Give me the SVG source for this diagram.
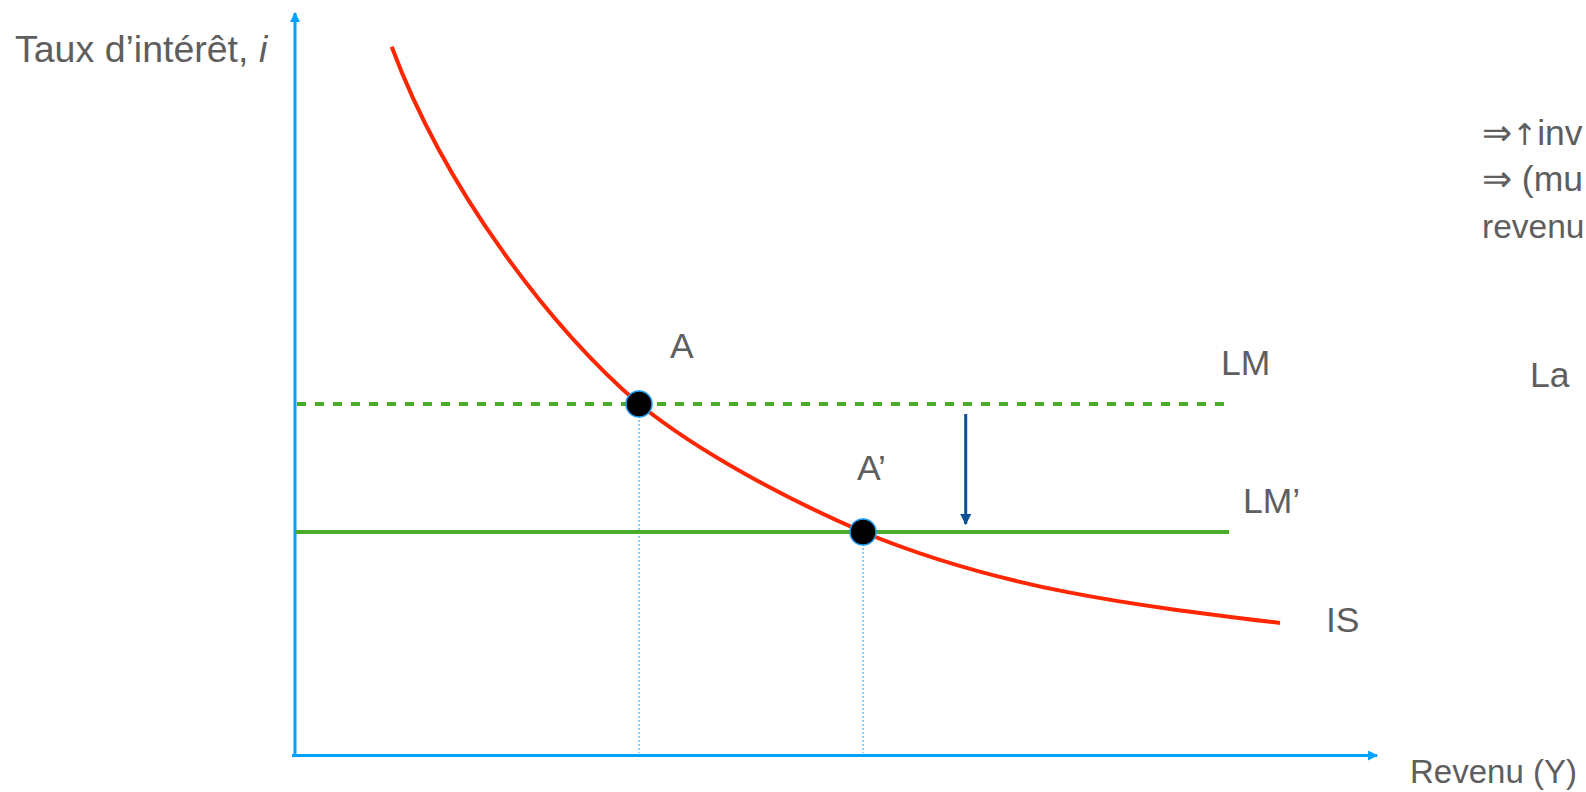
<svg xmlns="http://www.w3.org/2000/svg" width="1586" height="792" viewBox="0 0 1586 792">
<defs>
<style>
.t{font-family:"Liberation Sans",Arial,Helvetica,sans-serif;font-size:35.5px;fill:#5e5e5e}
.axis{stroke:#00a2ff;stroke-width:3;fill:none}
.guide{stroke:#1ea0ff;stroke-width:1;stroke-dasharray:2 2;fill:none}
.lm{stroke:#4aab2b;stroke-width:4;fill:none}
.is{stroke:#ff2600;stroke-width:4;fill:none}
.dot{fill:#000;stroke:#1a9cf0;stroke-width:1.5}
</style>
<marker id="axh" viewBox="0 0 10 10" refX="9" refY="5" markerWidth="10" markerHeight="10" markerUnits="userSpaceOnUse" orient="auto">
<path d="M0,0 L10,5 L0,10 Z" fill="#00a2ff"/>
</marker>
<marker id="shift" viewBox="0 0 10 10" refX="9" refY="5" markerWidth="11" markerHeight="11" markerUnits="userSpaceOnUse" orient="auto">
<path d="M0,0 L10,5 L0,10 Z" fill="#0b4f95"/>
</marker>
</defs>
<rect width="1586" height="792" fill="#fff"/>
<g id="connectors">
<line class="guide" x1="639" y1="404" x2="639" y2="753"/>
<line class="guide" x1="863" y1="532" x2="863" y2="753"/>
<line class="axis" x1="295" y1="755" x2="295" y2="13" marker-end="url(#axh)"/>
<line class="axis" x1="292" y1="755.5" x2="1377" y2="755.5" marker-end="url(#axh)"/>
<line class="lm" x1="297" y1="404" x2="1229" y2="404" stroke-dasharray="9 9"/>
<line class="lm" x1="296" y1="532" x2="1229" y2="532"/>
<path class="is" d="M391.7,46.7 C445,190 550,327 639,404 C701,454 789,500 863,532 C1001,589 1131.5,605 1280,623"/>
<line x1="965.7" y1="414" x2="965.7" y2="524" stroke="#0b4f95" stroke-width="3" marker-end="url(#shift)"/>
</g>
<g id="pointA"><circle class="dot" cx="639" cy="404" r="13"/><text class="t" x="670" y="358">A</text></g>
<g id="pointA2"><circle class="dot" cx="863" cy="532" r="13"/><text class="t" x="857" y="480">A’</text></g>
<g id="labelLM"><text class="t" x="1221" y="375">LM</text></g>
<g id="labelLM2"><text class="t" x="1243" y="513">LM’</text></g>
<g id="labelIS"><text class="t" x="1326" y="632">IS</text></g>
<g id="yaxis-label"><text class="t" x="15" y="62" style="font-size:37.5px">Taux d’intérêt, <tspan font-style="italic">i</tspan></text></g>
<g id="xaxis-label"><text class="t" x="1410" y="783" style="font-size:33px">Revenu (Y)</text></g>
<g id="side-text">
<text class="t" x="1482" y="145">⇒<tspan font-family="DejaVu Sans" font-size="30">↑</tspan>inv</text>
<text class="t" x="1482" y="191">⇒ (mu</text>
<text class="t" x="1482" y="238" style="font-size:33.5px">revenu</text>
<text class="t" x="1530" y="387">La</text>
</g>
</svg>
